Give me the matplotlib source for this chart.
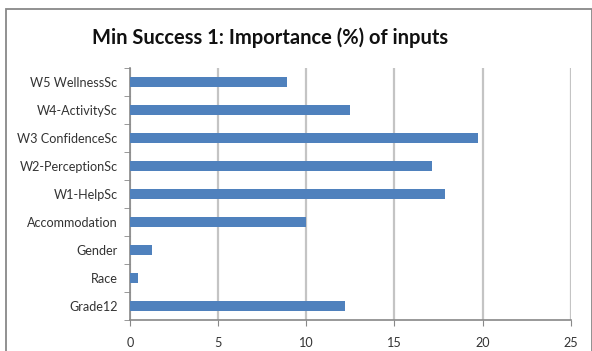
import matplotlib
matplotlib.use("Agg")
import matplotlib.pyplot as plt
from matplotlib.patches import Rectangle
import numpy as np

categories = ["W5 WellnessSc", "W4-ActivitySc", "W3 ConfidenceSc", "W2-PerceptionSc",
              "W1-HelpSc", "Accommodation", "Gender", "Race", "Grade12"]
values = [8.9, 12.5, 19.75, 17.15, 17.85, 10.0, 1.25, 0.45, 12.2]
xticks = [0, 5, 10, 15, 20, 25]

W, H = 592, 351
fig = plt.figure(figsize=(W / 100, H / 100), dpi=100)
ax = fig.add_axes([130 / W, 31 / H, (570.7 - 130) / W, (320 - 68) / H])

n = len(categories)
ypos = np.arange(n)[::-1]
ax.barh(ypos, values, height=0.38, color="#4F81BD", zorder=3)
ax.set_ylim(-0.5, n - 0.5)
ax.set_xlim(0, 25)
ax.set_xticks(xticks)
ax.set_xticklabels([str(t) for t in xticks])
ax.set_yticks(ypos)
ax.set_yticklabels(categories)
ax.set_yticks(np.arange(n + 1) - 0.5, minor=True)

font = "Lato"
for lab in ax.get_yticklabels():
    lab.set_fontfamily(font)
    lab.set_fontsize(9.1)
    lab.set_color("#333333")
for lab in ax.get_xticklabels():
    lab.set_fontfamily(font)
    lab.set_fontsize(9.1)
    lab.set_color("#333333")

ax.tick_params(axis="y", which="major", length=0, pad=9)
ax.tick_params(axis="y", which="minor", length=4, color="#888888", direction="out")
ax.tick_params(axis="x", which="major", length=4, color="#888888", pad=8)

ax.grid(axis="x", color="#C4C4C4", linewidth=1.6, zorder=0)
for s in ["top", "right"]:
    ax.spines[s].set_visible(False)
for s in ["left", "bottom"]:
    ax.spines[s].set_color("#888888")
    ax.spines[s].set_linewidth(1.2)

fig.text(270 / W, 1 - 38 / H, "Min Success 1: Importance (%) of inputs",
         ha="center", va="center", fontsize=14.5, fontweight="bold",
         fontfamily=font, color="#111111")

fig.patches.append(Rectangle((5.5 / W, -0.05), 586 / W, 1.05 - 9 / H,
                             transform=fig.transFigure, fill=False,
                             edgecolor="#888888", linewidth=1.3))

fig.savefig("out.png", dpi=100)
